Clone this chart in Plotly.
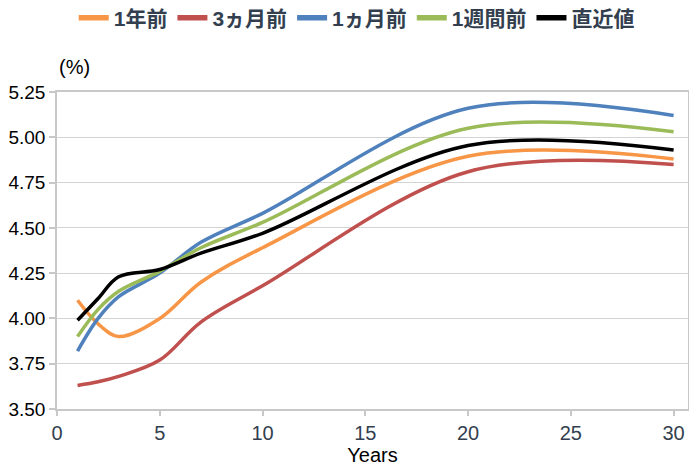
import plotly.graph_objects as go

years = [1, 2, 3, 5, 7, 10, 20, 30]
names = ["1年前", "3ヵ月前", "1ヵ月前", "1週間前", "直近値"]
year_ago = [4.10, 3.97, 3.90, 4.00, 4.20, 4.39, 4.895, 4.88]
three_month_ago = [3.63, 3.65, 3.68, 3.77, 3.98, 4.18, 4.81, 4.85]
one_month_ago = [3.82, 4.00, 4.12, 4.25, 4.42, 4.58, 5.16, 5.12]
one_week_ago = [3.90, 4.05, 4.15, 4.26, 4.39, 4.53, 5.05, 5.03]
latest = [3.99, 4.11, 4.23, 4.27, 4.36, 4.47, 4.955, 4.93]
series = [year_ago, three_month_ago, one_month_ago, one_week_ago, latest]
colors = ["#F79646", "#C0504D", "#4F81BD", "#9BBB59", "#000000"]

fig = go.Figure()
for n, s, c in zip(names, series, colors):
    fig.add_trace(go.Scatter(x=years, y=s, name=n, mode="lines", showlegend=False,
                             line=dict(color=c, width=3.5, shape="spline", smoothing=1.0)))
# legend entries with thicker swatches
for n, c in zip(names, colors):
    fig.add_trace(go.Scatter(x=[None], y=[None], name=n, mode="lines",
                             line=dict(color=c, width=5.5)))

fig.update_layout(
    width=689, height=458,
    margin=dict(l=49, r=9, t=84, b=57),
    paper_bgcolor="white", plot_bgcolor="white",
    font=dict(family="Liberation Sans, Arial, Noto Sans CJK JP", size=16, color="#000000"),
    legend=dict(orientation="h", x=0.475, xanchor="center", y=0.978, yanchor="middle",
                yref="container",
                font=dict(size=21, color="#333F4F", weight="bold",
                          family="Liberation Sans, Noto Sans CJK JP"),
                tracegroupgap=0),
    xaxis=dict(range=[0, 30.7], tickvals=[0, 5, 10, 15, 20, 25, 30], showgrid=False,
               showline=True, linecolor="#C8C8C8", linewidth=1.5, mirror=True,
               ticks="outside", ticklen=5, tickcolor="#C8C8C8", tickwidth=1.5,
               tickfont=dict(size=20, color="#333F4F"), automargin=False,
               title=dict(text="Years", font=dict(size=20, color="#000000"), standoff=6),
               zeroline=False),
    yaxis=dict(range=[3.5, 5.25], dtick=0.25, tick0=3.5, tickformat=".2f",
               showgrid=True, gridcolor="#D4D4D4", gridwidth=1.2,
               showline=True, linecolor="#C8C8C8", linewidth=1.5, mirror=True,
               ticks="outside", ticklen=6, tickcolor="#C8C8C8", tickwidth=1.5,
               tickfont=dict(size=19, color="#000000"), automargin=False,
               zeroline=False),
)
fig.add_annotation(text="(%)", xref="paper", yref="paper", x=0.0, y=1.0, yshift=12,
                   xanchor="left", yanchor="bottom", showarrow=False,
                   font=dict(size=20, color="#000000"))
fig.write_html("out.html")
